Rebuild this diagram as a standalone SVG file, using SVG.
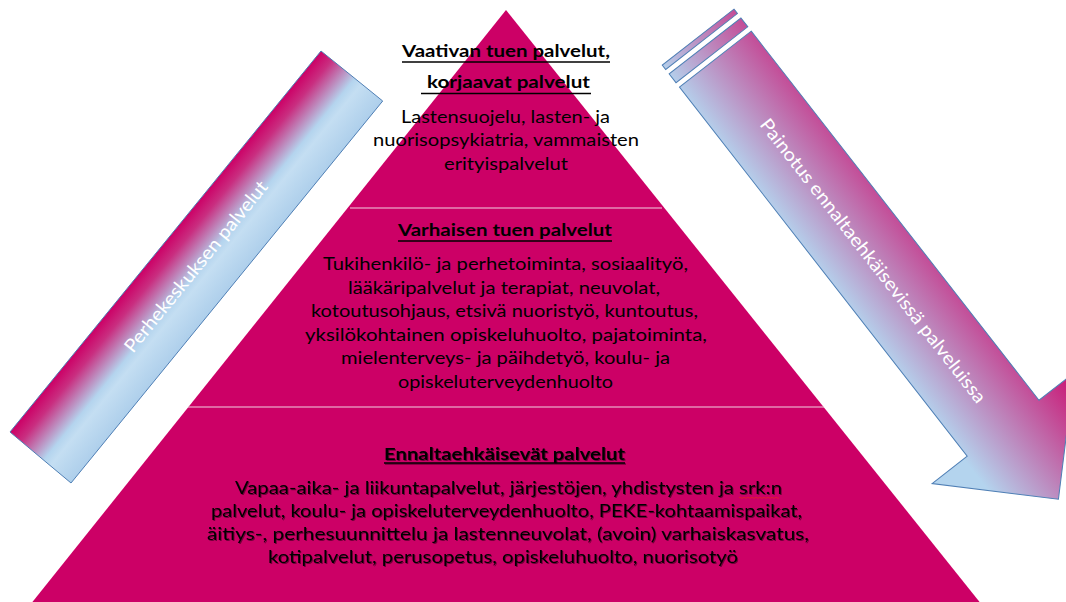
<svg xmlns="http://www.w3.org/2000/svg" width="1066" height="602" viewBox="0 0 1066 602">
<defs>
<style>
.t{font-family:Lato,"Liberation Sans",sans-serif;font-size:16.5px;fill:#000;text-anchor:middle}
.b{font-weight:bold;font-size:17.5px}
.w{fill:#fff;font-size:18.5px}
.ul{stroke:#000;stroke-width:1.6}
.sep{stroke:#F2CFE0;stroke-width:1.2}
.ol{stroke:#4F7FB5;stroke-width:1;stroke-linejoin:miter}
</style>
<linearGradient id="gLeft" gradientUnits="userSpaceOnUse" x1="165.5" y1="241.5" x2="227.1" y2="291.7">
<stop offset="0" stop-color="#CC0066"/>
<stop offset="0.18" stop-color="#C92E80"/>
<stop offset="0.55" stop-color="#B4D4EE"/>
<stop offset="0.66" stop-color="#C4DEF2"/>
<stop offset="1" stop-color="#AECFEB"/>
</linearGradient>
<linearGradient id="gRight" gradientUnits="userSpaceOnUse" x1="0" y1="50" x2="0" y2="-100">
<stop offset="0" stop-color="#B4D4EE"/>
<stop offset="1" stop-color="#CC0066"/>
</linearGradient>
<filter id="sh" x="-5%" y="-20%" width="110%" height="140%">
<feDropShadow dx="1" dy="1" stdDeviation="0.6" flood-color="#000" flood-opacity="0.45"/>
</filter>
</defs>

<g id="pyramid">
<polygon points="506,10 18,620 994,620" fill="#CC0066"/>
<line class="sep" x1="350" y1="208" x2="662" y2="208"/>
<line class="sep" x1="188" y1="407" x2="824" y2="407"/>
</g>

<g id="tier-top">
<text class="t b" x="506" y="57" textLength="208" lengthAdjust="spacingAndGlyphs">Vaativan tuen palvelut,</text>
<line class="ul" x1="402" y1="62" x2="610" y2="62"/>
<text class="t b" x="508.5" y="87.5" textLength="163" lengthAdjust="spacingAndGlyphs">korjaavat palvelut</text>
<line class="ul" x1="421" y1="93.5" x2="591" y2="93.5"/>
<text class="t" x="505.5" y="122.5" textLength="209" lengthAdjust="spacingAndGlyphs">Lastensuojelu, lasten- ja</text>
<text class="t" x="506" y="146" textLength="266" lengthAdjust="spacingAndGlyphs">nuorisopsykiatria, vammaisten</text>
<text class="t" x="506" y="169.5" textLength="124" lengthAdjust="spacingAndGlyphs">erityispalvelut</text>
</g>

<g id="tier-middle">
<text class="t b" x="505" y="236" textLength="214" lengthAdjust="spacingAndGlyphs">Varhaisen tuen palvelut</text>
<line class="ul" x1="398" y1="241" x2="612" y2="241"/>
<text class="t" x="505.5" y="270" textLength="365" lengthAdjust="spacingAndGlyphs">Tukihenkilö- ja perhetoiminta, sosiaalityö,</text>
<text class="t" x="504" y="293.5" textLength="312" lengthAdjust="spacingAndGlyphs">lääkäripalvelut ja terapiat, neuvolat,</text>
<text class="t" x="504.5" y="317" textLength="387" lengthAdjust="spacingAndGlyphs">kotoutusohjaus, etsivä nuoristyö, kuntoutus,</text>
<text class="t" x="506" y="340.5" textLength="402" lengthAdjust="spacingAndGlyphs">yksilökohtainen opiskeluhuolto, pajatoiminta,</text>
<text class="t" x="505.5" y="364" textLength="329" lengthAdjust="spacingAndGlyphs">mielenterveys- ja päihdetyö, koulu- ja</text>
<text class="t" x="505.5" y="387.5" textLength="215" lengthAdjust="spacingAndGlyphs">opiskeluterveydenhuolto</text>
</g>

<g id="tier-bottom">
<g filter="url(#sh)">
<text class="t b" x="504.5" y="459.5" textLength="241" lengthAdjust="spacingAndGlyphs">Ennaltaehkäisevät palvelut</text>
<line class="ul" x1="384" y1="463" x2="625" y2="463"/>
<text class="t" x="508.5" y="493.5" textLength="547" lengthAdjust="spacingAndGlyphs">Vapaa-aika- ja liikuntapalvelut, järjestöjen, yhdistysten ja srk:n</text>
<text class="t" x="506.5" y="516.5" textLength="591" lengthAdjust="spacingAndGlyphs">palvelut, koulu- ja opiskeluterveydenhuolto, PEKE-kohtaamispaikat,</text>
<text class="t" x="508" y="540" textLength="602" lengthAdjust="spacingAndGlyphs">äitiys-, perhesuunnittelu ja lastenneuvolat, (avoin) varhaiskasvatus,</text>
<text class="t" x="503" y="563" textLength="470" lengthAdjust="spacingAndGlyphs">kotipalvelut, perusopetus, opiskeluhuolto, nuorisotyö</text>
</g>
<path d="M739 497.8 q1 -1.3 2 0 t2 0 t2 0 t2 0 t2 0 t2 0 t2 0 t2 0 t2 0 t2 0 t2 0 t2 0 t2 0 t2 0 t2 0 t2 0 t2 0 t2 0 t2 0 t2 0" fill="none" stroke="#E02424" stroke-width="0.8"/>
</g>

<g id="left-band">
<polygon class="ol" points="10,432 321,51 382.7,101 71,483" fill="url(#gLeft)"/>
<g transform="translate(196.2,266.8) rotate(-50.8)">
<text class="t w" x="0" y="6" textLength="215" lengthAdjust="spacingAndGlyphs">Perhekeskuksen palvelut</text>
</g>
</g>

<g id="right-arrow" transform="translate(715.35,59.15) rotate(52.06)">
<rect class="ol" x="-28" y="-45.5" width="5.6" height="91" fill="url(#gRight)"/>
<rect class="ol" x="-16.8" y="-45.5" width="11.2" height="91" fill="url(#gRight)"/>
<path class="ol" d="M0,-45.5 L468,-45.5 L468,-90 L558,0 L468,90 L468,45.5 L0,45.5 Z" fill="url(#gRight)"/>
<text class="t w" x="256" y="6" textLength="355" lengthAdjust="spacingAndGlyphs">Painotus ennaltaehkäisevissä palveluissa</text>
</g>
</svg>
